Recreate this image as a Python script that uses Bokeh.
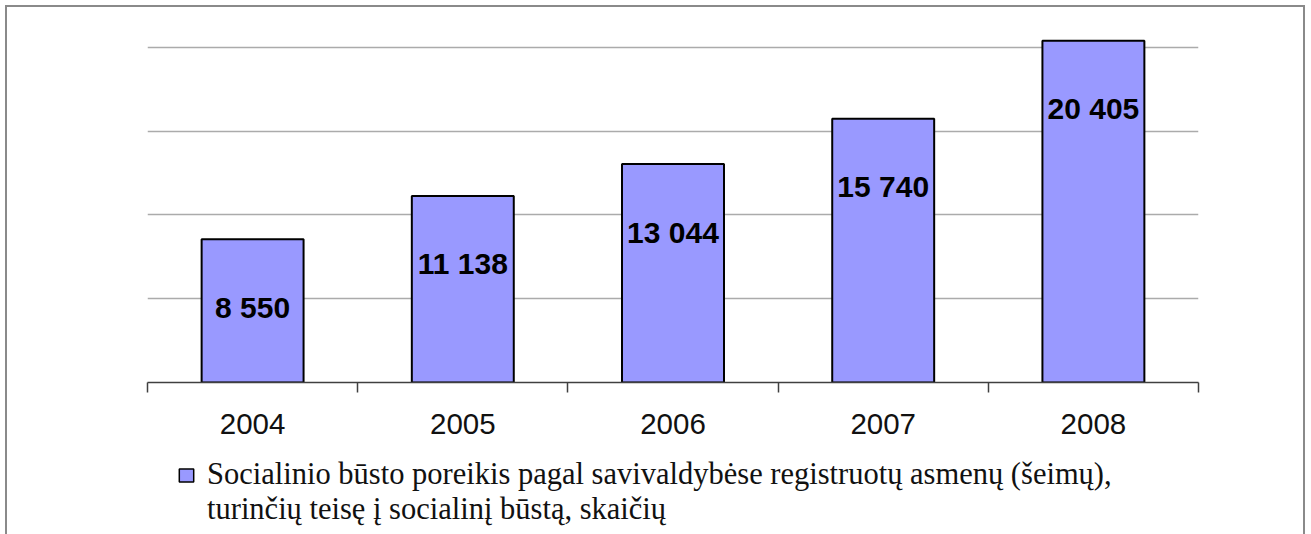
from bokeh.plotting import figure
from bokeh.layouts import column
from bokeh.models import (Range1d, FixedTicker, SingleIntervalTicker, Legend, LegendItem,
                          ColumnDataSource)
from bokeh.core.properties import value
from bokeh.embed import file_html
from bokeh.resources import INLINE

years = ["2004", "2005", "2006", "2007", "2008"]
counts = [8550, 11138, 13044, 15740, 20405]
legend_line1 = "Socialinio būsto poreikis pagal savivaldybėse registruotų asmenų (šeimų),"
legend_line2 = "turinčių teisę į socialinį būstą, skaičių"

BAR_FILL = "#9999FF"

xs = [i + 0.5 for i in range(len(years))]
labels = [f"{v:,}".replace(",", " ") for v in counts]
src = ColumnDataSource(dict(x=xs, top=counts, label=labels))

p = figure(width=1296, height=450, output_backend="svg", toolbar_location=None,
           x_range=Range1d(0, len(years)), y_range=Range1d(0, 21552),
           min_border_left=140, min_border_right=105, min_border_top=14,
           min_border_bottom=75)
p.outline_line_color = None
p.background_fill_color = "white"
p.border_fill_color = "white"

bars = p.vbar(x="x", top="top", width=0.485, bottom=0, source=src,
              fill_color=BAR_FILL, line_color="black", line_width=2)

p.text(x="x", y="top", text="label", source=src, y_offset=68,
       text_align="center", text_baseline="middle",
       text_font=value("Liberation Sans"), text_font_style="bold",
       text_font_size="30px", text_color="black")

# x axis: labels at category centers, ticks at boundaries
xt = FixedTicker(ticks=xs, minor_ticks=list(range(len(years) + 1)))
p.xaxis.ticker = xt
p.xaxis.major_label_overrides = {x: y for x, y in zip(xs, years)}
p.xaxis.major_tick_line_color = None
p.xaxis.major_tick_out = 0
p.xaxis.major_tick_in = 0
p.xaxis.minor_tick_out = 10
p.xaxis.minor_tick_in = 0
p.xaxis.minor_tick_line_color = "#404040"
p.xaxis.minor_tick_line_width = 1.5
p.xaxis.axis_line_color = "#404040"
p.xaxis.axis_line_width = 1.5
p.xaxis.major_label_standoff = 21
p.xaxis.major_label_text_font = "Liberation Sans"
p.xaxis.major_label_text_font_size = "29.5px"
p.xaxis.major_label_text_color = "#111111"

p.yaxis.ticker = SingleIntervalTicker(interval=5000)
p.yaxis.visible = False
p.ygrid.ticker = SingleIntervalTicker(interval=5000)
p.ygrid.grid_line_color = "#ababab"
p.ygrid.grid_line_width = 1.5
p.xgrid.grid_line_color = None

# legend panel (its own figure, below the chart)
q = figure(width=1296, height=77, output_backend="svg", toolbar_location=None,
           x_range=Range1d(0, 1), y_range=Range1d(0, 1),
           min_border_left=0, min_border_right=0, min_border_top=0, min_border_bottom=0)
q.axis.visible = False
q.grid.visible = False
q.outline_line_color = None
q.border_fill_color = "white"
r1 = q.vbar(x="x", top="top", width=0.485, source=src, fill_color=BAR_FILL,
            line_color="black", line_width=1.5, visible=False)
r2 = q.vbar(x="x", top="top", width=0.485, source=src, fill_alpha=0, line_alpha=0,
            visible=False)
legend = Legend(items=[LegendItem(label=legend_line1, renderers=[r1]),
                       LegendItem(label=legend_line2, renderers=[r2])],
                location=(30, 7), orientation="vertical",
                padding=0, margin=0, spacing=0, border_line_color=None,
                background_fill_alpha=0, inactive_fill_alpha=0,
                glyph_width=18, glyph_height=16,
                label_height=34, label_standoff=12,
                label_text_font="Liberation Serif", label_text_font_size="30.5px",
                label_text_color="#111111")
q.add_layout(legend, "center")

layout = column(p, q, spacing=0,
                styles={"border-left": "2px solid #8a8a8a", "border-top": "2px solid #8a8a8a",
                        "border-right": "2px solid #8a8a8a", "margin-left": "5px",
                        "margin-top": "5px"})

open("out.html", "w").write(file_html(layout, INLINE))
